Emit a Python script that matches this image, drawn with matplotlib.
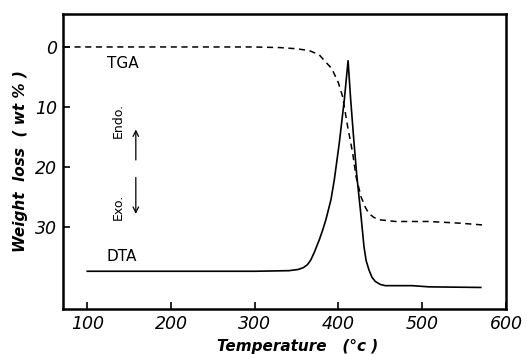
import matplotlib
matplotlib.use("Agg")
import matplotlib.pyplot as plt

# TGA curve (weight loss, wt%)
tga_temp = [72, 150, 250, 297, 330, 350, 365, 377, 386, 392, 400, 405, 411,
            417, 421, 427, 432, 436, 442, 448, 468, 508, 547, 574]
tga_loss = [0.0, 0.0, 0.0, 0.0, 0.1, 0.3, 0.6, 1.3, 2.7, 3.6, 6.0, 8.3, 13.3,
            17.7, 21.6, 25.0, 26.7, 27.7, 28.4, 28.8, 29.1, 29.1, 29.4, 29.7]

# DTA trace (arbitrary units, drawn on the same axis)
dta_temp = [100, 200, 300, 341, 352, 358, 363, 367, 371, 377, 381, 385, 391,
            395, 401, 407, 411.5, 414.6, 418.6, 422, 426.6, 430.5, 433, 436.5,
            440, 444, 450, 456, 488, 508, 570]
dta_val = [37.4, 37.4, 37.4, 37.3, 37.1, 36.8, 36.3, 35.5, 34.3, 32.2, 30.6,
           28.8, 25.5, 22.2, 16.0, 8.8, 2.3, 8.8, 16.0, 21.6, 27.7, 33.3, 35.6,
           37.2, 38.4, 39.1, 39.6, 39.8, 39.8, 40.0, 40.1]

xticks = [100, 200, 300, 400, 500, 600]
yticks = [0, 10, 20, 30]

fig = plt.figure(figsize=(5.27, 3.54), dpi=100)
ax = fig.add_axes([0.1195, 0.127, 0.8405, 0.8335])

ax.plot(tga_temp, tga_loss, color="black", lw=1.1, ls=(0, (4, 3)))
ax.plot(dta_temp, dta_val, color="black", lw=1.2)

ax.set_xlim(71, 600)
ax.set_ylim(43.7, -5.5)
ax.set_xticks(xticks)
ax.set_yticks(yticks)
ax.tick_params(direction="in", length=5, width=1.2, labelsize=12.5, pad=4)
for lab in ax.get_xticklabels() + ax.get_yticklabels():
    lab.set_style("italic")
for sp in ax.spines.values():
    sp.set_linewidth(1.8)

ax.set_xlabel("Temperature   (°c )", fontsize=11, fontweight="bold",
              style="italic", labelpad=0)
ax.xaxis.set_label_coords(0.53, -0.1)
ax.set_ylabel("Weight  loss  ( wt % )", fontsize=11, fontweight="bold",
              style="italic", labelpad=5)

# curve labels
ax.text(123, 2.7, "TGA", fontsize=11, va="center", ha="left")
ax.text(123, 35.0, "DTA", fontsize=11, va="center", ha="left")

# Endo / Exo markers
ax.text(137, 12.2, "Endo.", fontsize=9, rotation=90, va="center", ha="center")
ax.text(137, 26.7, "Exo.", fontsize=9, rotation=90, va="center", ha="center")
ax.annotate("", xy=(158, 13.3), xytext=(158, 19.3),
            arrowprops=dict(arrowstyle="->", lw=0.9, color="black"))
ax.annotate("", xy=(158, 28.3), xytext=(158, 21.3),
            arrowprops=dict(arrowstyle="->", lw=0.9, color="black"))

fig.savefig("out.png", dpi=100)
